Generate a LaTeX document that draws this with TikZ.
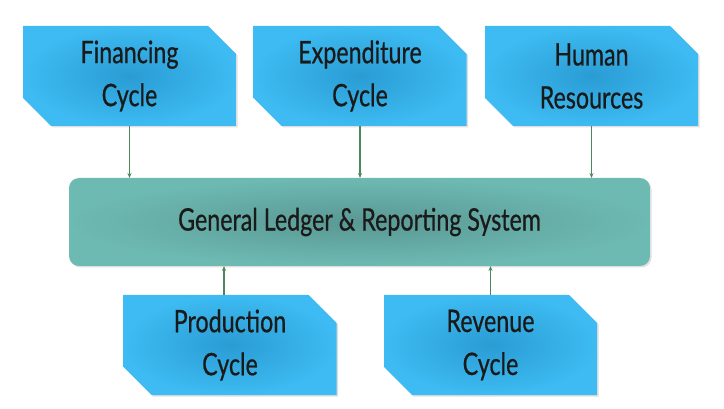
\documentclass[tikz,border=0pt]{standalone}
\usepackage{fontspec}
\setmainfont{Lato}[FakeStretch=0.75,FakeBold=0.6]
\usetikzlibrary{shapes.misc,shadows,arrows.meta}
\definecolor{boxout}{HTML}{3DBBF2}
\definecolor{boxin}{HTML}{2A9CD4}
\definecolor{glout}{HTML}{6DBAB2}
\definecolor{glin}{HTML}{5A9894}
\definecolor{arrgreen}{HTML}{4A8A5A}
\definecolor{txt}{HTML}{1A1A1A}
\tikzset{
  cyclebox/.style={chamfered rectangle, chamfered rectangle corners={north east,south west},
    chamfered rectangle xsep=14pt, chamfered rectangle ysep=14pt,
    minimum width=213pt, minimum height=100pt, inner sep=0pt, outer sep=0pt,
    shading=radial, inner color=boxin, outer color=boxout,
    drop shadow={opacity=0.25, shadow xshift=1.5pt, shadow yshift=-1.5pt},
    align=center, font=\fontsize{31}{43}\selectfont, text=txt},
  glbox/.style={rectangle, rounded corners=10pt, minimum width=581pt, minimum height=88pt,
    inner sep=0pt, outer sep=0pt,
    shading=radial, inner color=glin, outer color=glout,
    drop shadow={opacity=0.25, shadow xshift=1.5pt, shadow yshift=-1.5pt},
    font=\fontsize{31}{36}\selectfont, text=txt},
  arr/.style={draw=arrgreen, line width=1.1pt, -{Stealth[length=5pt,width=4pt]}}
}
\begin{document}
\begin{tikzpicture}[x=1pt,y=-1pt]
\useasboundingbox (0,0) rectangle (724,409);
\node[cyclebox] (fin) at (129.5,76) {Financing\\Cycle};
\node[cyclebox] (exp) at (360,76) {Expenditure\\Cycle};
\node[cyclebox] (hum) at (591.5,76) {Human\\Resources};
\node[glbox] (gl) at (359.5,222) {General Ledger \& Reporting System};
\node[cyclebox] (prod) at (230,345) {Production\\Cycle};
\node[cyclebox] (rev) at (490.5,345) {Revenue\\Cycle};
\draw[arr] (fin.south) -- (fin.south |- gl.north);
\draw[arr] (exp.south) -- (exp.south |- gl.north);
\draw[arr] (hum.south) -- (hum.south |- gl.north);
\draw[arr] ([xshift=-6pt]prod.north) -- ([xshift=-6pt]prod.north |- gl.south);
\draw[arr] (rev.north) -- (rev.north |- gl.south);
\end{tikzpicture}
\end{document}
